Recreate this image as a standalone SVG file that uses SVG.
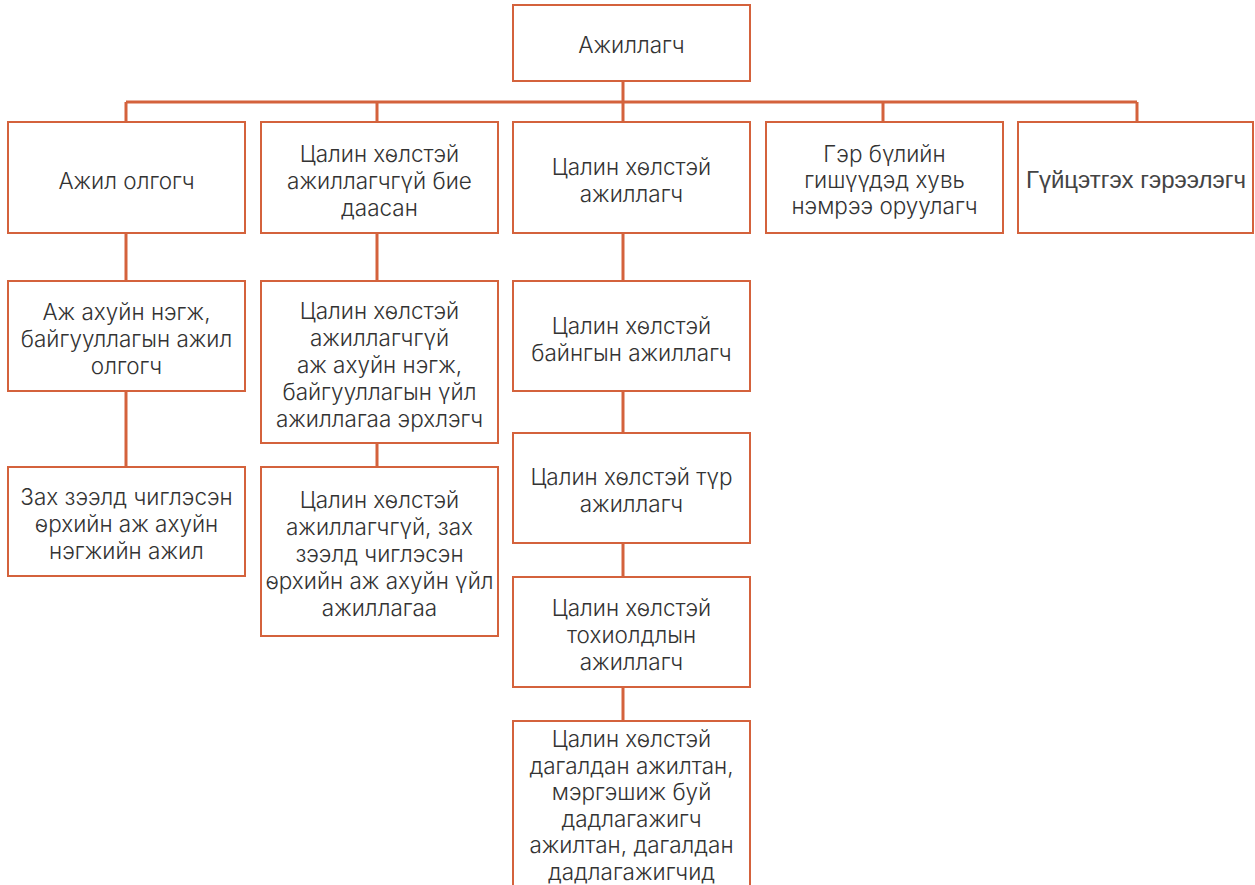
<svg xmlns="http://www.w3.org/2000/svg" width="1255" height="885" viewBox="0 0 1255 885">
<style>
.box{fill:#ffffff;stroke:#d4623c;stroke-width:2}
.con{stroke:#d4623c;stroke-width:3;fill:none}
.t{font-family:Inter,"Noto Sans",sans-serif;font-weight:300;font-size:22.5px;fill:#333333;text-anchor:middle}
.a{font-family:"Liberation Sans",Arial,sans-serif;font-size:24px;fill:#444444;text-anchor:middle}
</style>
<rect width="1255" height="885" fill="#ffffff"/>
<g id="connectors">
<path class="con" d="M623 81V122M126 102H1137M126 102V122M377 102V122M883 102V122M1137 102V122"/>
<path class="con" d="M126 233V281M126 391V467"/>
<path class="con" d="M377 233V281M377 443V467"/>
<path class="con" d="M623 233V281M623 391V433M623 543V577M623 687V721"/>
</g>
<g id="root"><rect class="box" x="513" y="5" width="237" height="76"/><text class="t" x="631.5" y="53">Ажиллагч</text></g>
<g id="n1"><rect class="box" x="8" y="122" width="237" height="111"/><text class="t" x="126.5" y="189">Ажил олгогч</text></g>
<g id="n2"><rect class="box" x="261" y="122" width="237" height="111"/><text class="t" x="379.5" y="162"><tspan x="379.5">Цалин хөлстэй</tspan><tspan x="379.5" dy="27">ажиллагчгүй бие</tspan><tspan x="379.5" dy="27">даасан</tspan></text></g>
<g id="n3"><rect class="box" x="513" y="122" width="237" height="111"/><text class="t" x="631.5" y="175"><tspan x="631.5">Цалин хөлстэй</tspan><tspan x="631.5" dy="27">ажиллагч</tspan></text></g>
<g id="n4"><rect class="box" x="766" y="122" width="237" height="111"/><text class="t" x="884.5" y="162"><tspan x="884.5">Гэр бүлийн</tspan><tspan x="884.5" dy="26">гишүүдэд хувь</tspan><tspan x="884.5" dy="26">нэмрээ оруулагч</tspan></text></g>
<g id="n5"><rect class="box" x="1018" y="122" width="235" height="111"/><text class="a" x="1136" y="188">Гүйцэтгэх гэрээлэгч</text></g>
<g id="n1a"><rect class="box" x="8" y="281" width="237" height="110"/><text class="t" x="126.5" y="320"><tspan x="126.5">Аж ахуйн нэгж,</tspan><tspan x="126.5" dy="27">байгууллагын ажил</tspan><tspan x="126.5" dy="27">олгогч</tspan></text></g>
<g id="n1b"><rect class="box" x="8" y="467" width="237" height="109"/><text class="t" x="126.5" y="505"><tspan x="126.5">Зах зээлд чиглэсэн</tspan><tspan x="126.5" dy="27">өрхийн аж ахуйн</tspan><tspan x="126.5" dy="27">нэгжийн ажил</tspan></text></g>
<g id="n2a"><rect class="box" x="261" y="281" width="237" height="162"/><text class="t" x="379.5" y="319"><tspan x="379.5">Цалин хөлстэй</tspan><tspan x="379.5" dy="27">ажиллагчгүй</tspan><tspan x="379.5" dy="27">аж ахуйн нэгж,</tspan><tspan x="379.5" dy="27">байгууллагын үйл</tspan><tspan x="379.5" dy="27">ажиллагаа эрхлэгч</tspan></text></g>
<g id="n2b"><rect class="box" x="261" y="467" width="237" height="169"/><text class="t" x="379.5" y="508"><tspan x="379.5">Цалин хөлстэй</tspan><tspan x="379.5" dy="27">ажиллагчгүй, зах</tspan><tspan x="379.5" dy="27">зээлд чиглэсэн</tspan><tspan x="379.5" dy="27">өрхийн аж ахуйн үйл</tspan><tspan x="379.5" dy="27">ажиллагаа</tspan></text></g>
<g id="n3a"><rect class="box" x="513" y="281" width="237" height="110"/><text class="t" x="631.5" y="334"><tspan x="631.5">Цалин хөлстэй</tspan><tspan x="631.5" dy="27">байнгын ажиллагч</tspan></text></g>
<g id="n3b"><rect class="box" x="513" y="433" width="237" height="110"/><text class="t" x="631.5" y="485"><tspan x="631.5">Цалин хөлстэй түр</tspan><tspan x="631.5" dy="27">ажиллагч</tspan></text></g>
<g id="n3c"><rect class="box" x="513" y="577" width="237" height="110"/><text class="t" x="631.5" y="616"><tspan x="631.5">Цалин хөлстэй</tspan><tspan x="631.5" dy="27">тохиолдлын</tspan><tspan x="631.5" dy="27">ажиллагч</tspan></text></g>
<g id="n3d"><rect class="box" x="513" y="721" width="237" height="200"/><text class="t" x="631.5" y="747"><tspan x="631.5">Цалин хөлстэй</tspan><tspan x="631.5" dy="26.6">дагалдан ажилтан,</tspan><tspan x="631.5" dy="26.6">мэргэшиж буй</tspan><tspan x="631.5" dy="26.6">дадлагажигч</tspan><tspan x="631.5" dy="26.6">ажилтан, дагалдан</tspan><tspan x="631.5" dy="26.6">дадлагажигчид</tspan></text></g>
</svg>
